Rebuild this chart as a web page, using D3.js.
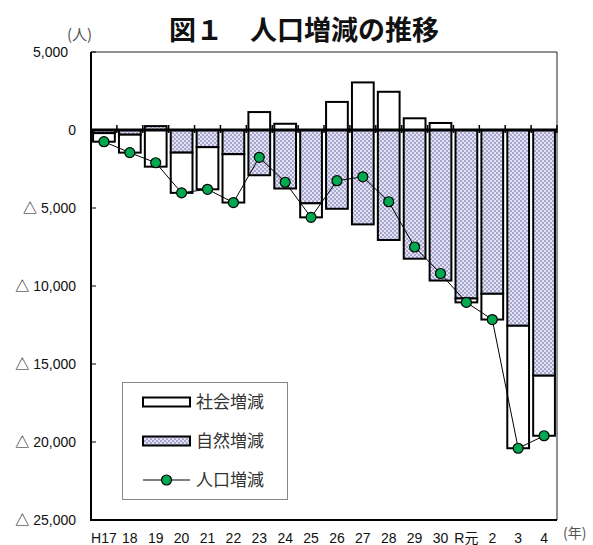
<!DOCTYPE html>
<html>
<head>
<meta charset="utf-8">
<script src="https://cdn.jsdelivr.net/npm/d3@7"></script>
<style>
  body { margin: 0; background: #fff; }
  svg { display: block; }
</style>
</head>
<body>
<div id="chart"></div>
<script>
// 人口増減の推移 data
var categories = ["H17","18","19","20","21","22","23","24","25","26","27","28","29","30","R元","2","3","4"];
var social  = [-550, -1150, -2350, -2580, -2700, -3100, 1150, 400, -900, 1800, 3050, 2450, 750, 450, -250, -1650, -7850, -3850];
var natural = [-200, -300, 250, -1450, -1100, -1550, -2900, -3750, -4700, -5050, -6050, -7050, -8250, -9650, -10800, -10500, -12550, -15750];
var total   = [-750, -1450, -2100, -4030, -3800, -4650, -1750, -3350, -5600, -3250, -3000, -4600, -7500, -9200, -11050, -12150, -20400, -19600];
var yTicks = [5000, 0, -5000, -10000, -15000, -20000, -25000];
var yTickLabels = ["5,000", "0", "△ 5,000", "△ 10,000", "△ 15,000", "△ 20,000", "△ 25,000"];
var legendNames = ["社会増減", "自然増減", "人口増減"];

var W = 593, H = 545;
var pLeft = 91, pRight = 557, pTop = 52, pBottom = 520;
var jpFont = "'Noto Sans CJK JP', sans-serif";
var numFont = "'Liberation Sans', 'Noto Sans CJK JP', Arial, sans-serif";

var svg = d3.select("#chart").append("svg").attr("width", W).attr("height", H);

// dotted fill for 自然増減
var defs = svg.append("defs");
var pat = defs.append("pattern").attr("id", "dots").attr("patternUnits", "userSpaceOnUse")
  .attr("width", 4).attr("height", 4);
pat.append("rect").attr("width", 4).attr("height", 4).attr("fill", "#e2e2f4");
pat.append("circle").attr("cx", 1).attr("cy", 1).attr("r", 0.7).attr("fill", "#40408c");
pat.append("circle").attr("cx", 3).attr("cy", 3).attr("r", 0.7).attr("fill", "#40408c");

var x = d3.scaleBand().domain(categories).range([pLeft, pRight]).paddingInner(0.16).paddingOuter(0.08);
var y = d3.scaleLinear().domain([-25000, 5000]).range([pBottom, pTop]);

// title
svg.append("text").attr("x", 304).attr("y", 40).attr("text-anchor", "middle")
  .attr("font-family", jpFont).attr("font-size", 27).attr("font-weight", "bold")
  .attr("fill", "#111").text("図１　人口増減の推移");
svg.append("text").attr("x", 67).attr("y", 40)
  .attr("font-family", jpFont).attr("font-size", 15).attr("fill", "#555").text("(人)");
svg.append("text").attr("x", 563).attr("y", 538)
  .attr("font-family", jpFont).attr("font-size", 14).attr("fill", "#555").text("(年)");

// frame
svg.append("line").attr("x1", pLeft).attr("x2", pRight).attr("y1", pTop).attr("y2", pTop).attr("stroke", "#222").attr("stroke-width", 1);
svg.append("line").attr("x1", pRight).attr("x2", pRight).attr("y1", pTop).attr("y2", pBottom).attr("stroke", "#222").attr("stroke-width", 1);

// y ticks and labels
svg.selectAll(".ytick").data(yTicks).enter().append("line")
  .attr("x1", pLeft).attr("x2", pLeft + 5)
  .attr("y1", function(d) { return y(d); }).attr("y2", function(d) { return y(d); })
  .attr("stroke", "#000").attr("stroke-width", 1);
svg.selectAll(".ylab").data(yTicks).enter().append("text")
  .attr("x", function(d) { return d > 0 ? 68 : 76; })
  .attr("y", function(d) { return y(d) + 5; })
  .attr("text-anchor", "end").attr("font-family", numFont).attr("font-size", 14).attr("fill", "#111")
  .text(function(d, i) { return yTickLabels[i]; });

// small ticks on zero line at category borders
var borders = categories.map(function(c) { return x(c) - x.step() * x.paddingInner() / 2; }).concat([pRight]);
svg.selectAll(".xtick").data(borders).enter().append("line")
  .attr("x1", function(d) { return d; }).attr("x2", function(d) { return d; })
  .attr("y1", y(0) - 5).attr("y2", y(0) + 3)
  .attr("stroke", "#000").attr("stroke-width", 1.5);

// bars
var bars = categories.map(function(c, i) {
  var n = natural[i], s = social[i];
  var sBase = (n < 0) === (s < 0) ? n : 0;
  return { c: c, n0: 0, n1: n, s0: sBase, s1: sBase + s };
});
var g = svg.append("g");
g.selectAll(".nat").data(bars).enter().append("rect")
  .attr("x", function(d) { return x(d.c); }).attr("width", x.bandwidth())
  .attr("y", function(d) { return y(Math.max(d.n0, d.n1)); })
  .attr("height", function(d) { return Math.abs(y(d.n0) - y(d.n1)); })
  .attr("fill", "url(#dots)").attr("stroke", "#000").attr("stroke-width", 2);
g.selectAll(".soc").data(bars).enter().append("rect")
  .attr("x", function(d) { return x(d.c); }).attr("width", x.bandwidth())
  .attr("y", function(d) { return y(Math.max(d.s0, d.s1)); })
  .attr("height", function(d) { return Math.abs(y(d.s0) - y(d.s1)); })
  .attr("fill", "#fff").attr("stroke", "#000").attr("stroke-width", 2);

// axes lines (drawn over bars)
svg.append("line").attr("x1", pLeft).attr("x2", pRight).attr("y1", y(0)).attr("y2", y(0)).attr("stroke", "#000").attr("stroke-width", 3);
svg.append("line").attr("x1", pLeft).attr("x2", pLeft).attr("y1", pTop).attr("y2", pBottom + 1).attr("stroke", "#000").attr("stroke-width", 2);
svg.append("line").attr("x1", pLeft).attr("x2", pRight).attr("y1", pBottom).attr("y2", pBottom).attr("stroke", "#000").attr("stroke-width", 2);

// line + dots
var cx = function(i) { return x(categories[i]) + x.bandwidth() / 2; };
var line = d3.line().x(function(d, i) { return cx(i); }).y(function(d) { return y(d); });
svg.append("path").datum(total).attr("d", line).attr("fill", "none").attr("stroke", "#000").attr("stroke-width", 1);
svg.selectAll(".dot").data(total).enter().append("circle")
  .attr("cx", function(d, i) { return cx(i); }).attr("cy", function(d) { return y(d); })
  .attr("r", 5).attr("fill", "#00a84f").attr("stroke", "#000").attr("stroke-width", 1.2);

// x labels
svg.selectAll(".xlab").data(categories).enter().append("text")
  .attr("x", function(d) { return x(d) + x.bandwidth() / 2; }).attr("y", 543)
  .attr("text-anchor", "middle").attr("font-family", numFont).attr("font-size", 14).attr("fill", "#111")
  .text(function(d) { return d; });

// legend
var lg = svg.append("g");
lg.append("rect").attr("x", 122.5).attr("y", 382.5).attr("width", 165).attr("height", 117)
  .attr("fill", "#fff").attr("stroke", "#888").attr("stroke-width", 1);
var ly = [402, 441, 480];
lg.append("rect").attr("x", 143).attr("y", ly[0] - 4.5).attr("width", 47).attr("height", 9)
  .attr("fill", "#fff").attr("stroke", "#000").attr("stroke-width", 2);
lg.append("rect").attr("x", 143).attr("y", ly[1] - 4.5).attr("width", 47).attr("height", 9)
  .attr("fill", "url(#dots)").attr("stroke", "#000").attr("stroke-width", 2);
lg.append("line").attr("x1", 143).attr("x2", 190).attr("y1", ly[2]).attr("y2", ly[2]).attr("stroke", "#000").attr("stroke-width", 1);
lg.append("circle").attr("cx", 166.5).attr("cy", ly[2]).attr("r", 5).attr("fill", "#00a84f").attr("stroke", "#000").attr("stroke-width", 1.2);
lg.selectAll(".ltxt").data(legendNames).enter().append("text")
  .attr("x", 196).attr("y", function(d, i) { return ly[i] + 6; })
  .attr("font-family", jpFont).attr("font-size", 17).attr("fill", "#333")
  .text(function(d) { return d; });
</script>
</body>
</html>
